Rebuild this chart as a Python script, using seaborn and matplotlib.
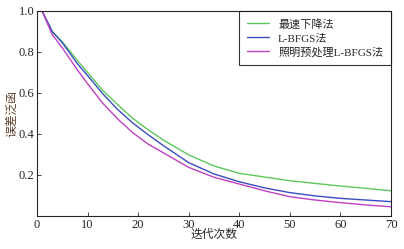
import numpy as np
import pandas as pd
import seaborn as sns
import matplotlib.pyplot as plt

# iteration numbers and error values
iters = [1, 3, 5, 8, 10, 13, 16, 19, 22, 25, 30, 35, 40, 45, 50, 55, 60, 65, 70]
steepest = [1.0, 0.90, 0.85, 0.758, 0.70, 0.612, 0.542, 0.475, 0.42, 0.37, 0.298, 0.244, 0.208,
            0.19, 0.172, 0.159, 0.146, 0.135, 0.123]
lbfgs = [1.0, 0.90, 0.845, 0.742, 0.685, 0.596, 0.518, 0.452, 0.396, 0.343, 0.26, 0.205, 0.167,
         0.137, 0.114, 0.098, 0.086, 0.078, 0.07]
lbfgs_pre = [1.0, 0.885, 0.82, 0.712, 0.645, 0.55, 0.472, 0.405, 0.35, 0.308, 0.237, 0.189, 0.156,
             0.123, 0.094, 0.078, 0.065, 0.054, 0.045]
names = ["最速下降法", "L-BFGS法", "照明预处理L-BFGS法"]
colors = ["#5cc85c", "#3a4cc0", "#c040c0"]

df = pd.concat([
    pd.DataFrame({"iter": iters, "err": s, "method": n})
    for s, n in zip([steepest, lbfgs, lbfgs_pre], names)
])

sns.set_style("ticks")
plt.rcParams['font.family'] = ['Liberation Serif', 'Noto Sans CJK SC']

fig = plt.figure(figsize=(4.04, 2.49), dpi=100)
ax = fig.add_axes([0.0916, 0.1325, 0.8764, 0.8235])
sns.lineplot(data=df, x="iter", y="err", hue="method", palette=colors, linewidth=1.0, ax=ax)

ax.set_xlim(0, 70)
ax.set_ylim(0, 1.0)
ax.set_xticks(np.arange(0, 71, 10))
ax.set_yticks([0.2, 0.4, 0.6, 0.8, 1.0])
ax.tick_params(direction="in", length=3, width=0.6, labelsize=9, pad=2)
for sp in ax.spines.values():
    sp.set_linewidth(0.8)
    sp.set_visible(True)
ax.set_xlabel("迭代次数", fontsize=8.5, labelpad=-1)
ax.set_ylabel("误差泛函", fontsize=8.5, labelpad=0, color="#5a3a2a")

leg = ax.legend(loc="upper right", fontsize=8, frameon=True, fancybox=False,
                borderaxespad=0, handlelength=2.0, labelspacing=0.35, borderpad=0.7)
leg.get_frame().set_edgecolor("black")
leg.get_frame().set_linewidth(0.8)

fig.savefig("out.png", dpi=100)
